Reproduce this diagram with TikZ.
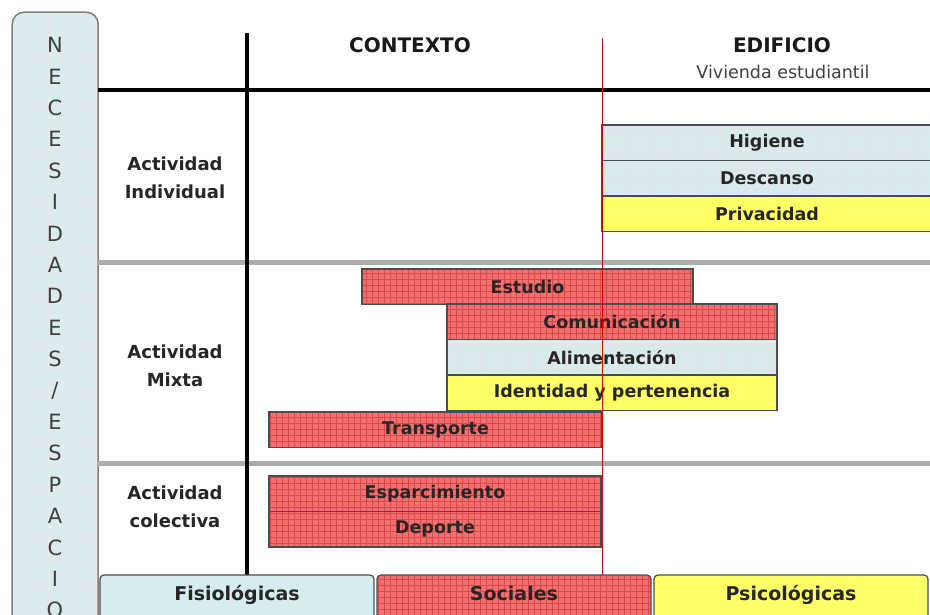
\documentclass[tikz,border=0pt]{standalone}
\usepackage{fontspec}
\setmainfont{DejaVu Sans}
\usepackage{tikz}
\usetikzlibrary{patterns.meta}
\definecolor{fisio}{RGB}{214,236,238}
\definecolor{socio}{RGB}{247,110,110}
\definecolor{psico}{RGB}{255,255,102}

\begin{document}
\begin{tikzpicture}[x=1pt,y=-1pt,
        bar/.style={draw=black!70, line width=1.2pt, anchor=north west, inner sep=0pt, outer sep=0pt,
                minimum height=35.5pt, font=\fontsize{17.5}{19}\selectfont\bfseries, text=black!85},
        fisiobar/.style={bar, preaction={fill=fisio}, pattern={Hatch[angle=0,distance=6pt,line width=0.4pt]}, pattern color=gray!22},
        sociobar/.style={bar, preaction={fill=socio}, pattern={Hatch[angle=0,distance=6pt,line width=0.5pt]}, pattern color=red!75!black!70},
        psicobar/.style={bar, fill=psico},
        leyenda/.style={draw=black!70, line width=1.2pt, anchor=north west, inner sep=0pt, outer sep=0pt,
                rounded corners=4pt, minimum width=274pt, minimum height=44pt, text depth=8pt,
                font=\fontsize{19}{21}\selectfont\bfseries, text=black!85},
        fila/.style={align=center, font=\fontsize{18}{28}\selectfont\bfseries, text=black!85},
        titulo/.style={font=\fontsize{20}{22}\selectfont\bfseries, text=black!90},
        letra/.style={font=\fontsize{21}{23}\selectfont, text=black!75},
    ]
    \clip (0,0) rectangle (930,615);
    \fill[white] (0,0) rectangle (930,615);

    % columna necesidades / espacio
    \node[draw=black!50, line width=1.5pt, rounded corners=12pt, anchor=north west, minimum width=86pt, minimum height=640pt,
        preaction={fill=fisio}, pattern={Hatch[angle=0,distance=6pt,line width=0.4pt]}, pattern color=gray!18] (nec) at (12,12) {};
    \foreach \l [count=\i from 0] in {N,E,C,E,S,I,D,A,D,E,S,/,E,S,P,A,C,I,O}
        \node[letra] (l\i) at (55,{45+\i*31.4}) {\l};

    % rejilla
    \draw[gray!65, line width=5pt] (98,262) -- (930,262) (98,463) -- (930,463);
    \draw[black, line width=4pt] (98,90) -- (930,90);
    \draw[black, line width=4pt] (247,33) -- (247,575);

    % encabezados
    \node[titulo] (contexto) at (410,45) {CONTEXTO};
    \node[titulo] (edificio) at (782,45) {EDIFICIO};
    \node[font=\fontsize{17.5}{19}\selectfont, text=black!75] (vivienda) at (783,72) {Vivienda estudiantil};

    \node[fila] (indiv) at (175,178) {Actividad\\Individual};
    \node[fila] (mixta) at (175,366) {Actividad\\Mixta};
    \node[fila] (colec) at (175,507) {Actividad\\colectiva};

    % barras
    \node[fisiobar, minimum width=330pt] (higiene) at (602,125) {Higiene};
    \node[fisiobar, minimum width=330pt] (descanso) at (higiene.south west) {Descanso};
    \node[psicobar, minimum width=330pt] (privacidad) at (descanso.south west) {Privacidad};

    \node[sociobar, minimum width=331pt] (estudio) at (362,269) {Estudio};
    \node[sociobar, minimum width=330pt] (comunicacion) at (447,304) {Comunicación};
    \node[fisiobar, minimum width=330pt] (alimentacion) at (comunicacion.south west) {Alimentación};
    \node[psicobar, minimum width=330pt] (identidad) at (alimentacion.south west) {Identidad y pertenencia};
    \node[sociobar, minimum width=333pt] (transporte) at (269,412) {Transporte};

    \node[sociobar, minimum width=332pt] (esparcimiento) at (269,476) {Esparcimiento};
    \node[sociobar, minimum width=332pt] (deporte) at (esparcimiento.south west) {Deporte};

    \draw[red!85!black, line width=0.9pt] (602,38) -- (602,575);

    % leyenda
    \node[leyenda, fill=fisio] (fisiologicas) at (100,575) {Fisiológicas};
    \node[leyenda, preaction={fill=socio}, pattern={Hatch[angle=0,distance=6pt,line width=0.5pt]}, pattern color=red!75!black!70] (sociales) at (377,575) {Sociales};
    \node[leyenda, fill=psico] (psicologicas) at (654,575) {Psicológicas};
\end{tikzpicture}
\end{document}
